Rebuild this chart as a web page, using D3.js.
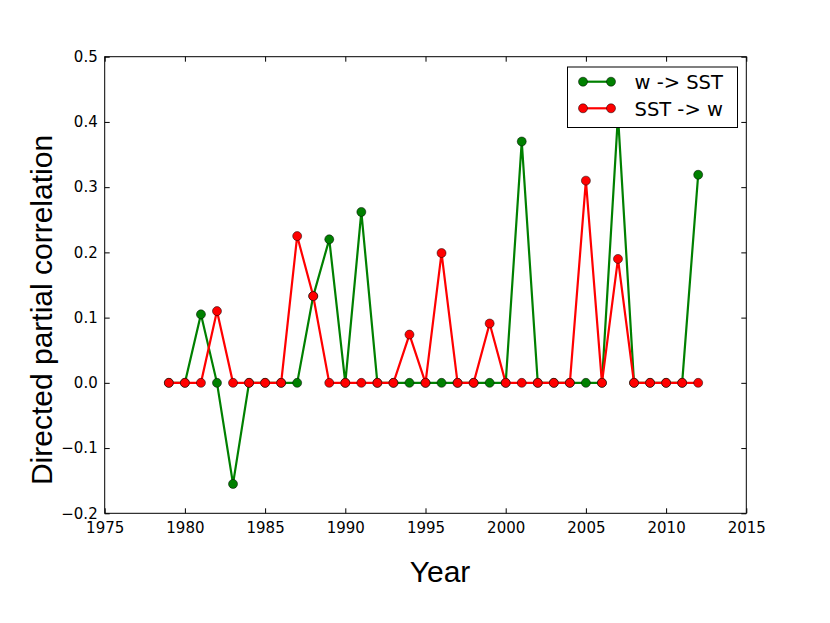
<!DOCTYPE html>
<html>
<head>
<meta charset="utf-8">
<script src="https://cdn.jsdelivr.net/npm/d3@7"></script>
<style>
  body { margin: 0; background: #fff; }
  .tick text { font-family: "DejaVu Sans", sans-serif; font-size: 15px; fill: #000; }
  .axis-label { font-family: "Liberation Sans", Arial, sans-serif; font-size: 30px; fill: #000; }
  .legend text { font-family: "DejaVu Sans", sans-serif; font-size: 19.5px; fill: #000; }
</style>
</head>
<body>
<svg width="830" height="623"></svg>
<script>
// data
var years = d3.range(1979, 2013);
var wToSst = [0, 0, 0.105, 0, -0.155, 0, 0, 0, 0, 0.133, 0.22, 0, 0.262, 0, 0, 0, 0, 0, 0, 0,
              0, 0, 0.37, 0, 0, 0, 0, 0, 0.41, 0, 0, 0, 0, 0.319];
var sstToW = [0, 0, 0, 0.11, 0, 0, 0, 0, 0.225, 0.133, 0, 0, 0, 0, 0, 0.074, 0, 0.199, 0, 0,
              0.091, 0, 0, 0, 0, 0, 0.31, 0, 0.19, 0, 0, 0, 0, 0];
var seriesNames = ['w -> SST', 'SST -> w'];
var seriesColors = ['#008000', '#ff0000'];
var xTicks = [1975, 1980, 1985, 1990, 1995, 2000, 2005, 2010, 2015];
var yTicks = [-0.2, -0.1, 0.0, 0.1, 0.2, 0.3, 0.4, 0.5];

var svg = d3.select('svg');
var plot = {l: 104.7, t: 56.7, r: 746.3, b: 513.3};
var w = plot.r - plot.l, h = plot.b - plot.t;

var xScale = d3.scaleLinear().domain([1975, 2015]).range([0, w]);
var yScale = d3.scaleLinear().domain([-0.2, 0.5]).range([h, 0]);

var g = svg.append('g').attr('transform', 'translate(' + [plot.l, plot.t] + ')');

// axes with inward ticks, mirrored on top/right
g.append('g').attr('transform', 'translate(0,' + h + ')')
  .call(d3.axisBottom(xScale).tickValues(xTicks).tickFormat(d3.format('d')).tickSizeInner(-5).tickSizeOuter(0).tickPadding(9));
g.append('g')
  .call(d3.axisTop(xScale).tickValues(xTicks).tickFormat('').tickSizeInner(-5).tickSizeOuter(0));
g.append('g')
  .call(d3.axisLeft(yScale).tickValues(yTicks).tickFormat(d3.format('.1f')).tickSizeInner(-5).tickSizeOuter(0).tickPadding(7));
g.append('g').attr('transform', 'translate(' + w + ',0)')
  .call(d3.axisRight(yScale).tickValues(yTicks).tickFormat('').tickSizeInner(-5).tickSizeOuter(0));
g.selectAll('.domain').remove();
g.selectAll('.tick line').attr('stroke', '#000');

var line = d3.line()
  .x(function(d) { return xScale(d.year); })
  .y(function(d) { return yScale(d.value); });

[wToSst, sstToW].forEach(function(vals, i) {
  var data = years.map(function(y, j) { return {year: y, value: vals[j]}; });
  g.append('path')
    .datum(data)
    .attr('d', line)
    .attr('fill', 'none')
    .attr('stroke', seriesColors[i])
    .attr('stroke-width', 2.2);
  g.selectAll('.pt' + i)
    .data(data)
    .enter()
    .append('circle')
    .attr('class', 'pt' + i)
    .attr('cx', function(d) { return xScale(d.year); })
    .attr('cy', function(d) { return yScale(d.value); })
    .attr('r', 4.5)
    .attr('fill', seriesColors[i])
    .attr('stroke', '#000')
    .attr('stroke-width', 0.5);
});

// frame
g.append('rect')
  .attr('width', w).attr('height', h)
  .attr('fill', 'none').attr('stroke', '#000').attr('stroke-width', 1);

// legend
var legend = svg.append('g').attr('class', 'legend').attr('transform', 'translate(567.5,67)');
legend.append('rect')
  .attr('width', 170).attr('height', 60.5)
  .attr('fill', '#fff').attr('stroke', '#000').attr('stroke-width', 1);
seriesNames.forEach(function(name, i) {
  var yy = 14.7 + i * 26.6;
  legend.append('line')
    .attr('x1', 15.5).attr('x2', 43.5).attr('y1', yy).attr('y2', yy)
    .attr('stroke', seriesColors[i]).attr('stroke-width', 2.2);
  [15.5, 43.5].forEach(function(cx) {
    legend.append('circle')
      .attr('cx', cx).attr('cy', yy).attr('r', 4.5)
      .attr('fill', seriesColors[i]).attr('stroke', '#000').attr('stroke-width', 0.5);
  });
  legend.append('text')
    .attr('x', 67).attr('y', yy + 7.5)
    .text(name);
});

// axis labels
svg.append('text')
  .attr('class', 'axis-label')
  .attr('x', 440).attr('y', 582)
  .attr('text-anchor', 'middle')
  .text('Year');
svg.append('text')
  .attr('class', 'axis-label')
  .attr('transform', 'translate(52,310) rotate(-90)')
  .attr('text-anchor', 'middle')
  .text('Directed partial correlation');
</script>
</body>
</html>
